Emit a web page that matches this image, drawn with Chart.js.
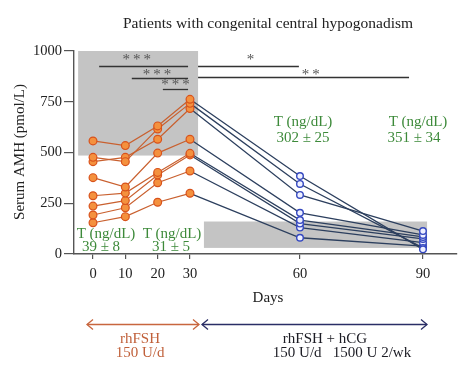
<!DOCTYPE html>
<html>
<head>
<meta charset="utf-8">
<script src="https://cdn.jsdelivr.net/npm/chart.js@4.4.1/dist/chart.umd.min.js"></script>
<style>
  html, body { margin: 0; padding: 0; background: #fff; }
  #wrap { width: 474px; height: 382px; position: relative; }
</style>
</head>
<body>
<div id="wrap"><canvas id="c" width="474" height="382"></canvas></div>
<script>
// ---------- data ----------
const days = [0, 10, 20, 30, 60, 90];
const xTickDays = [0, 10, 20, 30, 60, 90];
const yTicks = [0, 250, 500, 750, 1000];

// serum AMH (pmol/L) per patient at days 0,10,20,30,60,90
const patient1 = [557, 534, 631, 762, 384, 23];
const patient2 = [476, 455, 616, 742, 345, 30];
const patient3 = [455, 476, 565, 717, 291, 113];
const patient4 = [376, 330, 497, 565, 203, 94];
const patient5 = [287, 300, 402, 496, 167, 84];
const patient6 = [236, 263, 389, 488, 150, 74];
const patient7 = [192, 228, 351, 409, 130, 56];
const patient8 = [154, 184, 255, 299, 80, 39];
const patients = [patient1, patient2, patient3, patient4, patient5, patient6, patient7, patient8];

// reference (normal) ranges shown as grey boxes: [dayFrom, dayTo, amhFrom, amhTo]
const refBoxFSH = [-4.6, 32.2, 485, 1000];
const refBoxHCG = [33.8, 91, 30, 160];

// significance brackets: [dayFrom, dayTo, amh, label, labelDay, labelAmh]
const sig1 = [1.9, 29.4, 924, '***', 13.5, 968];
const sig1b = [32.2, 59.7, 927, '*', 46.5, 968];
const sig2 = [12, 29.4, 869, '***', 19.8, 896];
const sig2b = [32.2, 86.6, 872, '**', 62.6, 898];
const sig3 = [21.6, 29.4, 813, '***', 25.5, 847];
const sigs = [sig1, sig1b, sig2, sig2b, sig3];

// testosterone annotations
const tLabels = ['39 ± 8', '31 ± 5', '302 ± 25', '351 ± 34'];

// ---------- piecewise day scale (axis is stretched unevenly as in the figure) ----------
const segWeights = [97, 110, 123];
function dayToPos(d) {
  if (d <= 30) return d * segWeights[0] / 30;
  if (d <= 60) return segWeights[0] + (d - 30) * segWeights[1] / 30;
  return segWeights[0] + segWeights[1] + (d - 60) * segWeights[2] / 30;
}
function posToDay(p) {
  if (p <= segWeights[0]) return p * 30 / segWeights[0];
  if (p <= segWeights[0] + segWeights[1]) return 30 + (p - segWeights[0]) * 30 / segWeights[1];
  return 60 + (p - segWeights[0] - segWeights[1]) * 30 / segWeights[2];
}
class PiecewiseScale extends Chart.LinearScale {
  getPixelForValue(v) {
    const a = dayToPos(this.min), b = dayToPos(this.max);
    return this.getPixelForDecimal((dayToPos(v) - a) / (b - a));
  }
  getValueForPixel(px) {
    const a = dayToPos(this.min), b = dayToPos(this.max);
    return posToDay(a + this.getDecimalForPixel(px) * (b - a));
  }
}
PiecewiseScale.id = 'piecewise';
PiecewiseScale.defaults = Chart.LinearScale.defaults;
Chart.register(PiecewiseScale);

// ---------- styles ----------
const SERIF = '"Liberation Serif", "DejaVu Serif", serif';
const ORANGE_LINE = '#c9602f';
const ORANGE_FILL = '#f4913e';
const ORANGE_EDGE = '#d8521c';
const NAVY_LINE = '#2c3f5e';
const BLUE_EDGE = '#3448c0';
const BLUE_FILL = '#eef0ff';
const GREEN = '#3d8a3a';
const AXIS = '#555';

const datasets = [];
patients.forEach((p) => {
  datasets.push({
    data: days.slice(0, 4).map((d, j) => ({ x: d, y: p[j] })),
    borderColor: ORANGE_LINE, borderWidth: 1.2,
    pointRadius: 3.9, pointBorderWidth: 1.2,
    pointBackgroundColor: ORANGE_FILL, pointBorderColor: ORANGE_EDGE,
    order: 0, tension: 0
  });
  datasets.push({
    data: days.slice(3).map((d, j) => ({ x: d, y: p[3 + j] })),
    borderColor: NAVY_LINE, borderWidth: 1.3,
    pointRadius: [0, 3.3, 3.3], pointBorderWidth: 1.4,
    pointBackgroundColor: BLUE_FILL, pointBorderColor: BLUE_EDGE,
    order: 1, tension: 0
  });
});

const overlay = {
  id: 'overlay',
  beforeDatasetsDraw(chart) {
    const ctx = chart.ctx, x = chart.scales.x, y = chart.scales.y;
    ctx.save();
    ctx.fillStyle = '#c4c4c4';
    [refBoxFSH, refBoxHCG].forEach(b => {
      const x0 = x.getPixelForValue(b[0]), x1 = x.getPixelForValue(b[1]);
      const y0 = y.getPixelForValue(b[3]), y1 = y.getPixelForValue(b[2]);
      ctx.fillRect(x0, y0, x1 - x0, y1 - y0);
    });
    ctx.restore();
  },
  afterDatasetsDraw(chart) {
    const ctx = chart.ctx, x = chart.scales.x, y = chart.scales.y;
    ctx.save();
    // significance brackets
    ctx.strokeStyle = '#333'; ctx.lineWidth = 1.3;
    ctx.fillStyle = '#555';
    ctx.textAlign = 'center'; ctx.textBaseline = 'middle';
    ctx.font = '15px ' + SERIF;
    sigs.forEach(s => {
      const yy = Math.round(y.getPixelForValue(s[2])) + 0.5;
      ctx.beginPath();
      ctx.moveTo(x.getPixelForValue(s[0]), yy);
      ctx.lineTo(x.getPixelForValue(s[1]), yy);
      ctx.stroke();
      const lab = s[3].split('').join('\u2009');
      ctx.fillText(lab, x.getPixelForValue(s[4]), y.getPixelForValue(s[5]) + 3);
    });
    // testosterone texts
    ctx.fillStyle = GREEN;
    ctx.font = '15px ' + SERIF;
    ctx.fillText('T (ng/dL)', 106, 234);
    ctx.fillText(tLabels[0], 101, 247);
    ctx.fillText('T (ng/dL)', 172, 234);
    ctx.fillText(tLabels[1], 171, 247);
    ctx.fillText('T (ng/dL)', 303, 122);
    ctx.fillText(tLabels[2], 303, 138);
    ctx.fillText('T (ng/dL)', 418, 122);
    ctx.fillText(tLabels[3], 414, 138);

    // titles
    ctx.fillStyle = '#222';
    ctx.font = '15.5px ' + SERIF;
    ctx.fillText('Patients with congenital central hypogonadism', 268, 24);
    ctx.font = '15px ' + SERIF;
    ctx.fillText('Days', 268, 298);
    ctx.save();
    ctx.translate(20, 152);
    ctx.rotate(-Math.PI / 2);
    ctx.fillText('Serum AMH (pmol/L)', 0, 0);
    ctx.restore();

    // treatment arrows
    function arrow(x0, x1, yy, col) {
      ctx.strokeStyle = col; ctx.lineWidth = 1.3;
      ctx.beginPath(); ctx.moveTo(x0, yy); ctx.lineTo(x1, yy); ctx.stroke();
      ctx.beginPath();
      ctx.moveTo(x0 + 6, yy - 5); ctx.lineTo(x0, yy); ctx.lineTo(x0 + 6, yy + 5);
      ctx.moveTo(x1 - 6, yy - 5); ctx.lineTo(x1, yy); ctx.lineTo(x1 - 6, yy + 5);
      ctx.stroke();
    }
    arrow(87, 199, 324.5, '#c8663e');
    arrow(202, 427, 324.5, '#2a2e66');
    ctx.fillStyle = '#c0603a';
    ctx.font = '15px ' + SERIF;
    ctx.fillText('rhFSH', 140, 339);
    ctx.fillText('150 U/d', 140, 353);
    ctx.fillStyle = '#1c1c24';
    ctx.fillText('rhFSH + hCG', 325, 339);
    ctx.fillText('150 U/d   1500 U 2/wk', 342, 353);
    ctx.restore();
  }
};

new Chart(document.getElementById('c'), {
  type: 'line',
  data: { datasets },
  plugins: [overlay],
  options: {
    responsive: false,
    animation: false,
    layout: { padding: { left: 0, right: 17, top: 51, bottom: 0 } },
    plugins: { legend: { display: false }, tooltip: { enabled: false }, title: { display: false } },
    scales: {
      x: {
        type: 'piecewise',
        min: -5.88, max: 98.3,
        afterBuildTicks: (s) => { s.ticks = xTickDays.map(v => ({ value: v })); },
        afterFit: (s) => { s.height = 128; },
        grid: { drawOnChartArea: false, drawTicks: true, tickLength: 5, color: AXIS, lineWidth: 1.2 },
        border: { display: true, color: AXIS, width: 1.4 },
        ticks: { color: '#222', font: { family: SERIF, size: 14.5 }, padding: 6, maxRotation: 0, autoSkip: false,
                 callback: (v) => String(v) }
      },
      y: {
        min: 0, max: 1000,
        afterBuildTicks: (s) => { s.ticks = yTicks.map(v => ({ value: v })); },
        afterFit: (s) => { s.width = 74; },
        grid: { drawOnChartArea: false, drawTicks: true, tickLength: 10, color: AXIS, lineWidth: 1.2 },
        border: { display: true, color: AXIS, width: 1.4 },
        ticks: { color: '#222', font: { family: SERIF, size: 14.5 }, padding: 2, callback: (v) => String(v) }
      }
    }
  }
});
</script>
</body>
</html>
